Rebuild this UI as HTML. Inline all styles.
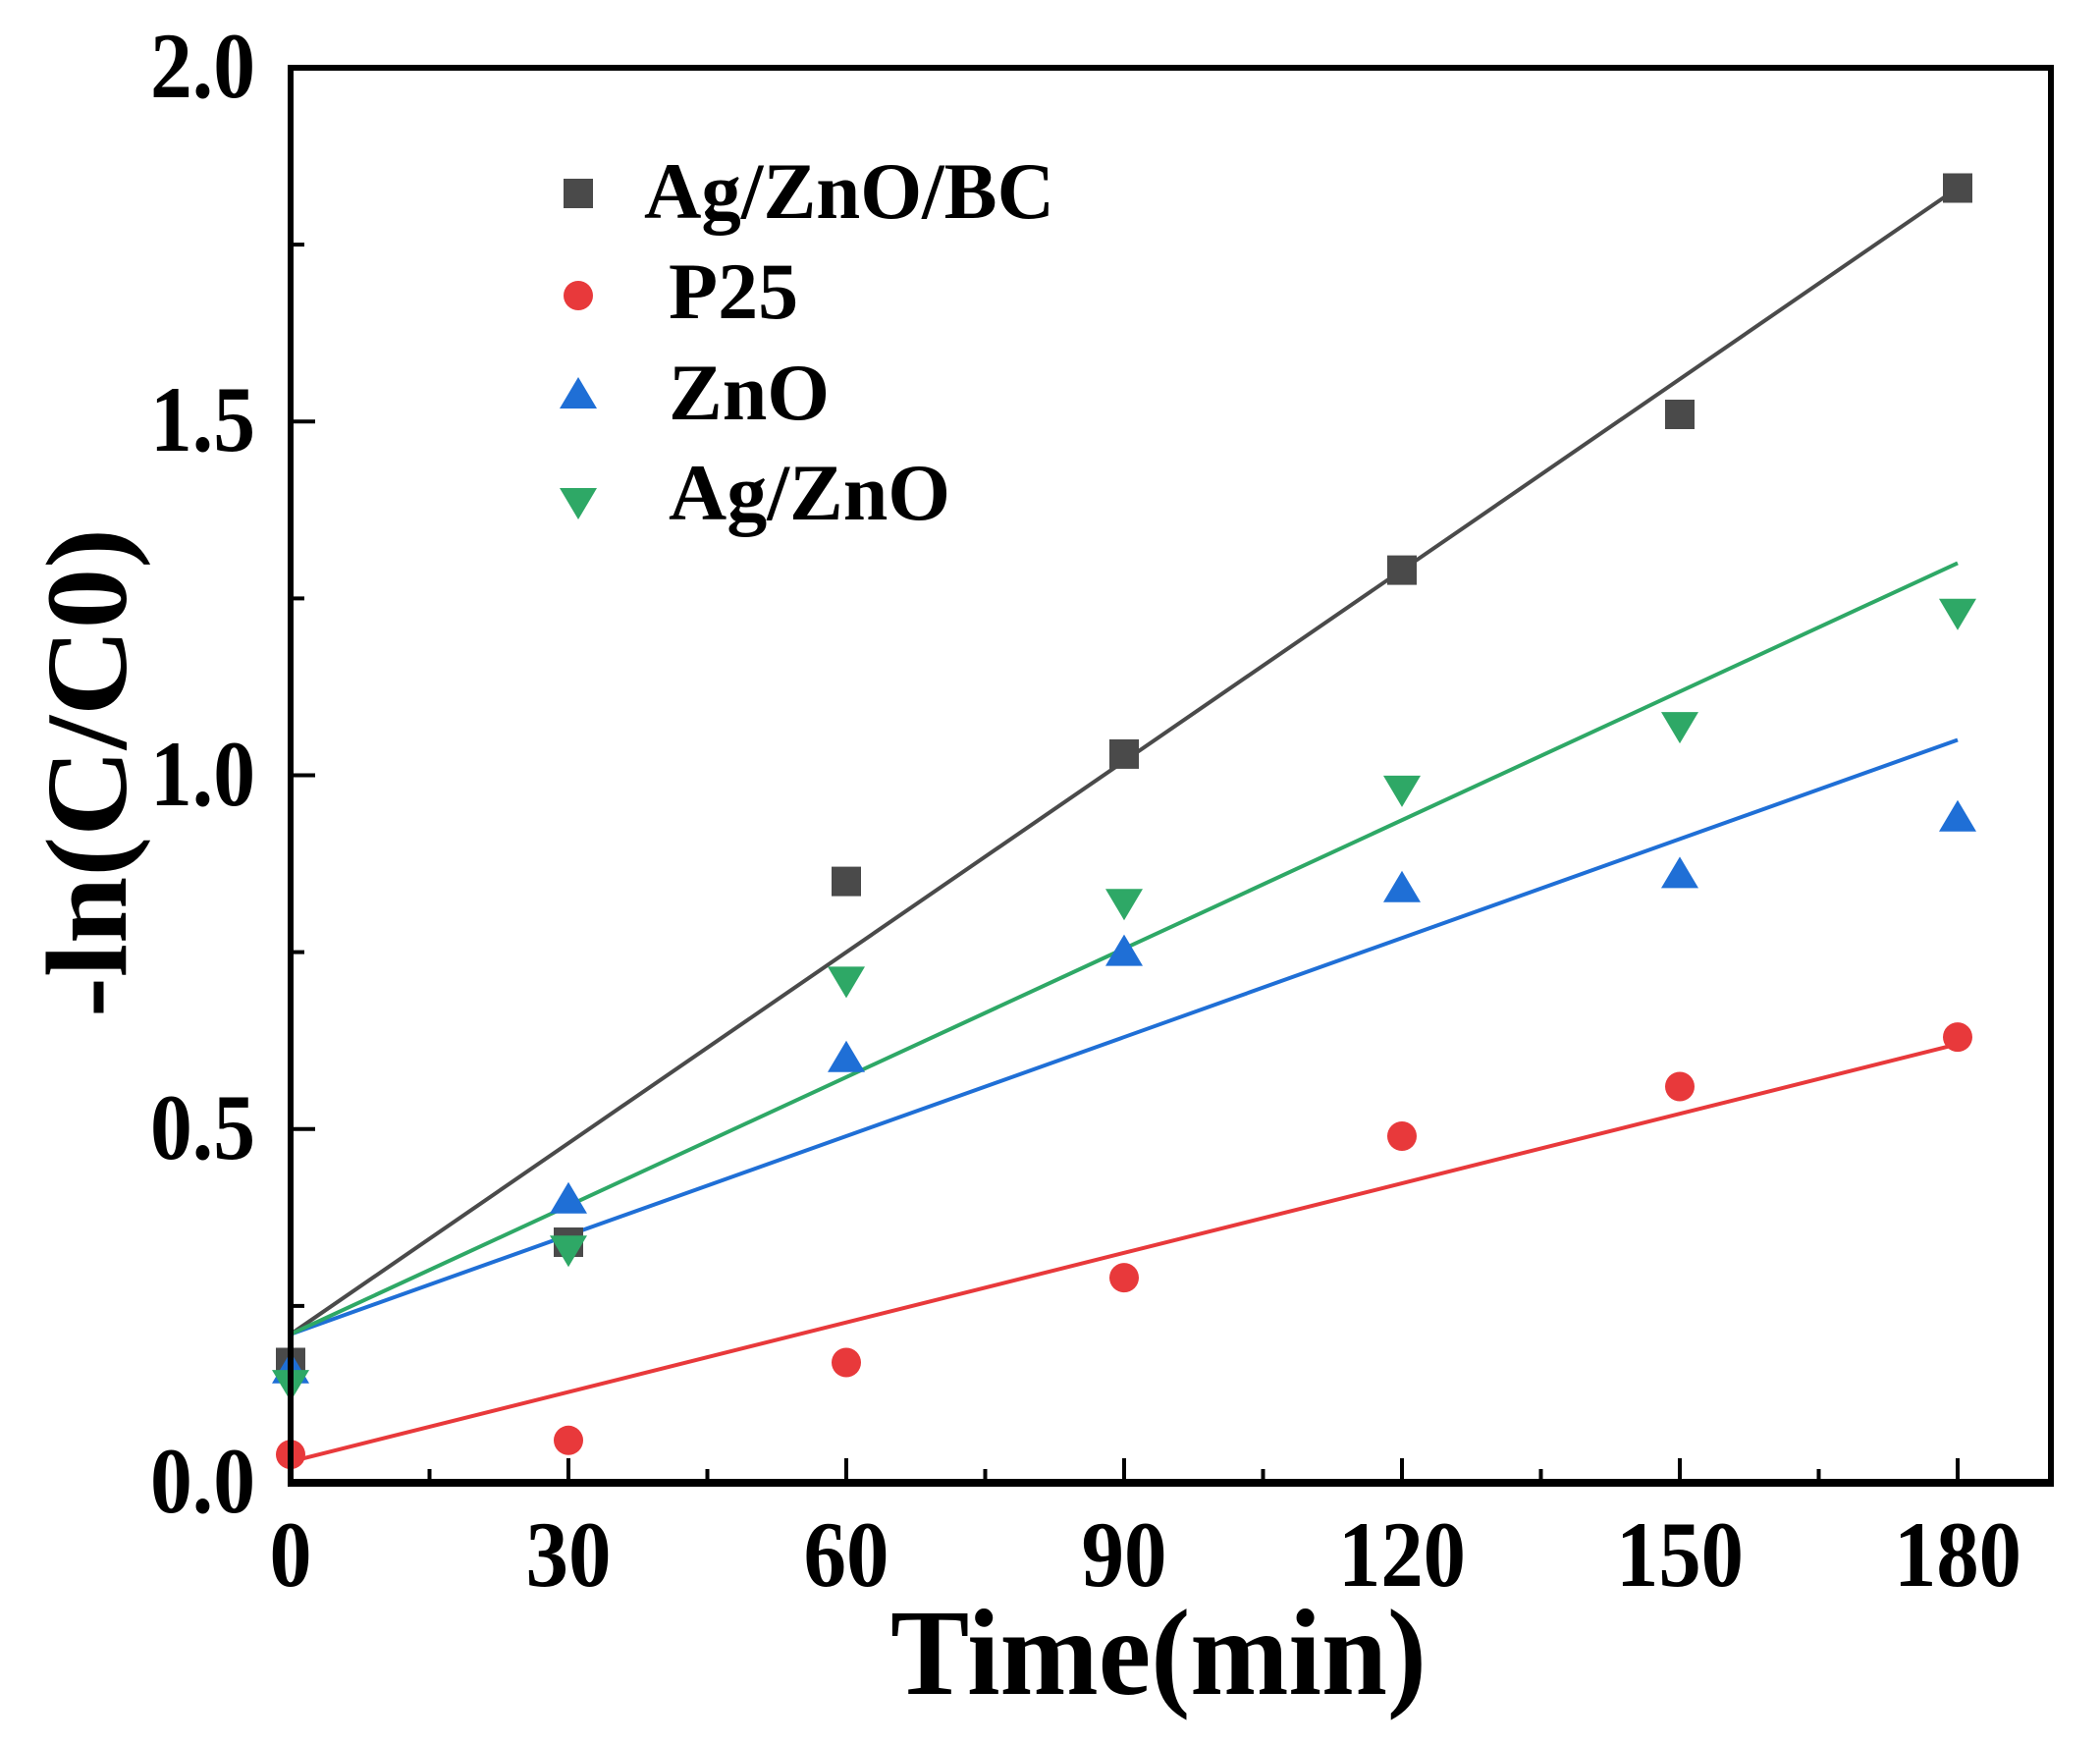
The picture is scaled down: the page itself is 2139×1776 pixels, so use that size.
<!DOCTYPE html>
<html><head><meta charset="utf-8"><style>html,body{margin:0;padding:0;background:#fff}svg{display:block}</style></head>
<body>
<svg width="2139" height="1776" viewBox="0 0 2139 1776" xmlns="http://www.w3.org/2000/svg" xmlns:xlink="http://www.w3.org/1999/xlink" font-family="Liberation Serif, serif" font-weight="bold">
<defs>
<rect id="sq" x="-15" y="-15" width="30" height="30" fill="#4a4a4a"/>
<circle id="ci" cx="0" cy="0" r="15" fill="#e8393b"/>
<polygon id="up" points="0,-18 -19,14 19,14" fill="#1f6fd6"/>
<polygon id="dn" points="0,18 -19,-14 19,-14" fill="#2ea866"/>
</defs>
<rect width="2139" height="1776" fill="#fff"/>
<g stroke="#000" stroke-width="4">
<line x1="296" y1="1510" x2="296" y2="1485"/><line x1="437.5" y1="1510" x2="437.5" y2="1496"/>
<line x1="579" y1="1510" x2="579" y2="1485"/><line x1="720.5" y1="1510" x2="720.5" y2="1496"/>
<line x1="862" y1="1510" x2="862" y2="1485"/><line x1="1003.5" y1="1510" x2="1003.5" y2="1496"/>
<line x1="1145" y1="1510" x2="1145" y2="1485"/><line x1="1286.5" y1="1510" x2="1286.5" y2="1496"/>
<line x1="1428" y1="1510" x2="1428" y2="1485"/><line x1="1569.5" y1="1510" x2="1569.5" y2="1496"/>
<line x1="1711" y1="1510" x2="1711" y2="1485"/><line x1="1852.5" y1="1510" x2="1852.5" y2="1496"/>
<line x1="1994" y1="1510" x2="1994" y2="1485"/>
<line x1="296" y1="1329.9" x2="310" y2="1329.9"/><line x1="296" y1="1149.8" x2="321" y2="1149.8"/>
<line x1="296" y1="969.6" x2="310" y2="969.6"/><line x1="296" y1="789.5" x2="321" y2="789.5"/>
<line x1="296" y1="609.4" x2="310" y2="609.4"/><line x1="296" y1="429.3" x2="321" y2="429.3"/>
<line x1="296" y1="249.1" x2="310" y2="249.1"/>
</g>
<g font-size="95" text-anchor="middle">
<text x="296" y="1615" textLength="43" lengthAdjust="spacingAndGlyphs">0</text>
<text x="579" y="1615" textLength="87" lengthAdjust="spacingAndGlyphs">30</text>
<text x="862" y="1615" textLength="87" lengthAdjust="spacingAndGlyphs">60</text>
<text x="1145" y="1615" textLength="87" lengthAdjust="spacingAndGlyphs">90</text>
<text x="1428" y="1615" textLength="130" lengthAdjust="spacingAndGlyphs">120</text>
<text x="1711" y="1615" textLength="130" lengthAdjust="spacingAndGlyphs">150</text>
<text x="1994" y="1615" textLength="130" lengthAdjust="spacingAndGlyphs">180</text>
</g>
<g font-size="95" text-anchor="end">
<text x="260" y="1540" textLength="107" lengthAdjust="spacingAndGlyphs">0.0</text>
<text x="260" y="1180" textLength="107" lengthAdjust="spacingAndGlyphs">0.5</text>
<text x="260" y="820" textLength="107" lengthAdjust="spacingAndGlyphs">1.0</text>
<text x="260" y="459" textLength="107" lengthAdjust="spacingAndGlyphs">1.5</text>
<text x="260" y="99" textLength="107" lengthAdjust="spacingAndGlyphs">2.0</text>
</g>
<g stroke-width="4">
<line x1="296" y1="1358.7" x2="1994" y2="191.5" stroke="#4a4a4a"/>
<line x1="296" y1="1488.4" x2="1994" y2="1063.3" stroke="#e8393b"/>
<line x1="296" y1="1358.7" x2="1994" y2="753.5" stroke="#1f6fd6"/>
<line x1="296" y1="1358.7" x2="1994" y2="573.4" stroke="#2ea866"/>
</g>
<use xlink:href="#sq" href="#sq" x="296" y="1387.5"/><use xlink:href="#sq" href="#sq" x="579" y="1265"/>
<use xlink:href="#sq" href="#sq" x="862" y="897.6"/><use xlink:href="#sq" href="#sq" x="1145" y="767.9"/>
<use xlink:href="#sq" href="#sq" x="1428" y="580.6"/><use xlink:href="#sq" href="#sq" x="1711" y="422"/>
<use xlink:href="#sq" href="#sq" x="1994" y="191.5"/>
<use xlink:href="#ci" href="#ci" x="296" y="1481.2"/><use xlink:href="#ci" href="#ci" x="579" y="1466.8"/>
<use xlink:href="#ci" href="#ci" x="862" y="1387.5"/><use xlink:href="#ci" href="#ci" x="1145" y="1301.1"/>
<use xlink:href="#ci" href="#ci" x="1428" y="1157"/><use xlink:href="#ci" href="#ci" x="1711" y="1106.5"/>
<use xlink:href="#ci" href="#ci" x="1994" y="1056.1"/>
<use xlink:href="#up" href="#up" x="296" y="1394.7"/><use xlink:href="#up" href="#up" x="579" y="1221.8"/>
<use xlink:href="#up" href="#up" x="862" y="1077.7"/><use xlink:href="#up" href="#up" x="1145" y="969.6"/>
<use xlink:href="#up" href="#up" x="1428" y="904.8"/><use xlink:href="#up" href="#up" x="1711" y="890.4"/>
<use xlink:href="#up" href="#up" x="1994" y="832.7"/>
<use xlink:href="#dn" href="#dn" x="296" y="1409.1"/><use xlink:href="#dn" href="#dn" x="579" y="1272.2"/>
<use xlink:href="#dn" href="#dn" x="862" y="998.4"/><use xlink:href="#dn" href="#dn" x="1145" y="919.2"/>
<use xlink:href="#dn" href="#dn" x="1428" y="803.9"/><use xlink:href="#dn" href="#dn" x="1711" y="739.1"/>
<use xlink:href="#dn" href="#dn" x="1994" y="623.8"/>
<use xlink:href="#sq" href="#sq" x="589" y="197"/>
<use xlink:href="#ci" href="#ci" x="589" y="301"/>
<use xlink:href="#up" href="#up" x="589" y="402"/>
<use xlink:href="#dn" href="#dn" x="589" y="511"/>
<g font-size="82">
<text x="656" y="222" textLength="418" lengthAdjust="spacingAndGlyphs">Ag/ZnO/BC</text>
<text x="681" y="324">P25</text>
<text x="681" y="427">ZnO</text>
<text x="681" y="529">Ag/ZnO</text>
</g>
<rect x="296" y="69" width="1793" height="1441" fill="none" stroke="#000" stroke-width="6"/>
<line x1="293" y1="1510" x2="2092" y2="1510" stroke="#000" stroke-width="8"/>
<text x="1180" y="1725" font-size="125" text-anchor="middle" textLength="546" lengthAdjust="spacingAndGlyphs">Time(min)</text>
<text transform="translate(128,787) rotate(-90)" font-size="118" text-anchor="middle" textLength="498" lengthAdjust="spacingAndGlyphs">-ln(C/C0)</text>
</svg>
</body></html>
